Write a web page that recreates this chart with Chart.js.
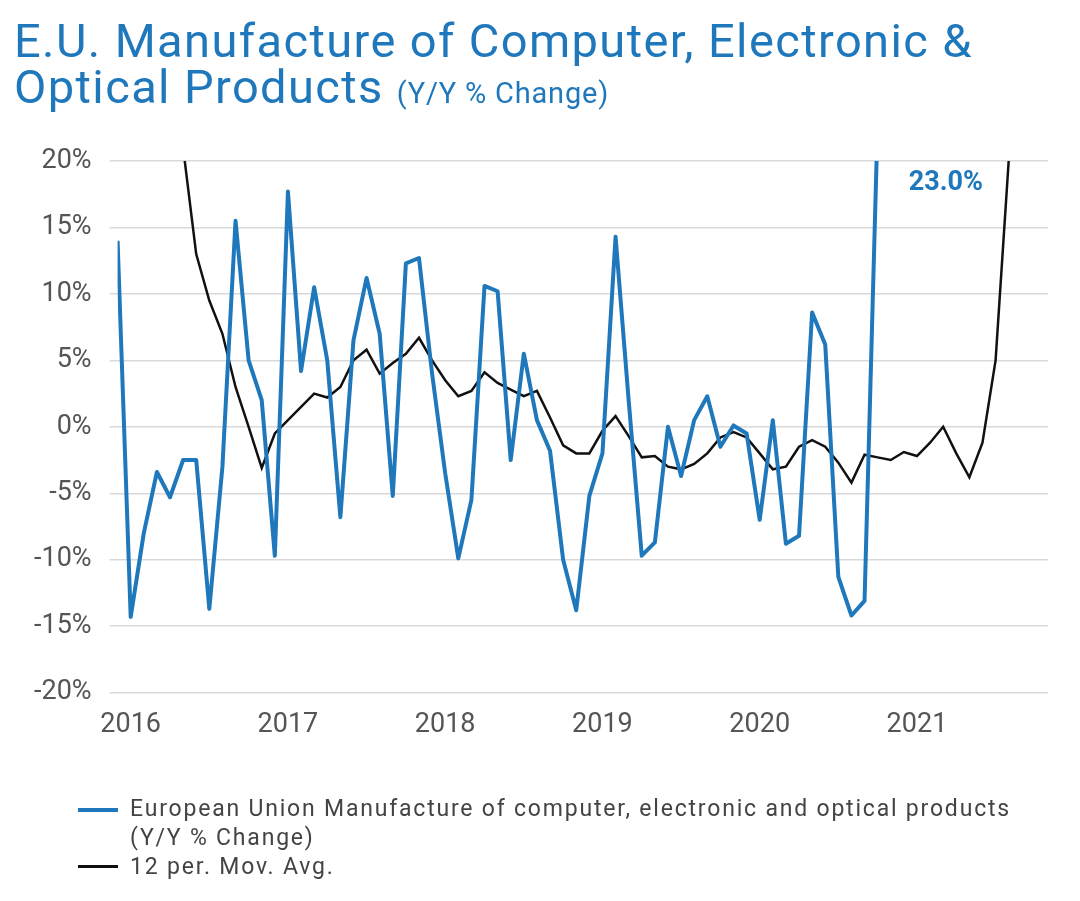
<!DOCTYPE html>
<html><head><meta charset="utf-8">
<script src="https://cdn.jsdelivr.net/npm/chart.js@4"></script>
<style>
body{margin:0;width:1080px;height:901px;background:#fff;font-family:Roboto,"Noto Sans",sans-serif;position:relative;overflow:hidden}
#t{position:absolute;left:14px;top:18px;color:#1f78bb;font-size:47px;line-height:46px;letter-spacing:1.4px}
#t span{font-size:29px;letter-spacing:0.8px}
#c{position:absolute;left:0;top:0}
#lg{position:absolute;left:78px;top:794px;font-size:23px;color:#444;line-height:29px;letter-spacing:1.8px}
.r{display:flex;align-items:flex-start}
.sw{width:40px;margin-right:12px;margin-top:14px}
</style></head><body>
<canvas id="c" width="1080" height="901"></canvas>
<div id="t">E.U. Manufacture of Computer, Electronic &amp;<br>Optical Products <span>(Y/Y % Change)</span></div>
<div id="lg">
<div class="r"><div class="sw" style="border-top:4px solid #1f78bb"></div><div>European Union Manufacture of computer, electronic and optical products<br>(Y/Y % Change)</div></div>
<div class="r"><div class="sw" style="border-top:3px solid #111;margin-top:13px"></div><div>12 per. Mov. Avg.</div></div>
</div>
<script>
const startYear=2015, startMonth=11; // Dec 2015
const nMonths=72;
const labels=[];for(let i=0;i<nMonths;i++){const m=(startMonth+i)%12;const y=startYear+Math.floor((startMonth+i)/12);labels.push(m===0?String(y):'');}
const euSeries=[14,-14.3,-8,-3.4,-5.3,-2.5,-2.5,-13.7,-3,15.5,5,2,-9.7,
17.7,4.2,10.5,5,-6.8,6.5,11.2,7,-5.2,12.3,12.7,4,
-3.5,-9.9,-5.5,10.6,10.2,-2.5,5.5,0.5,-1.8,-10,-13.8,-5.2,
-2,14.3,2,-9.7,-8.7,0,-3.7,0.5,2.3,-1.5,0.1,-0.5,
-7,0.5,-8.8,-8.2,8.6,6.2,-11.3,-14.2,-13.1,23];
const movAvg=[null,null,null,30,25,21,13,9.5,7,3,0,-3.1,
-0.5,0.5,1.5,2.5,2.2,3,5,5.8,4,4.8,5.5,6.7,
5,3.5,2.3,2.7,4.1,3.3,2.8,2.3,2.7,0.7,-1.4,-2,
-2,-0.3,0.8,-0.7,-2.3,-2.2,-3,-3.2,-2.8,-2,-0.8,-0.4,
-0.8,-2,-3.2,-3,-1.5,-1,-1.5,-2.7,-4.2,-2.1,-2.3,-2.5,
-1.9,-2.2,-1.2,0,-2,-3.8,-1.2,5,20,35];
const yTicks=[-20,-15,-10,-5,0,5,10,15,20];
const note={label:'23.0%',index:63.2,value:17.8};
const notePlugin={id:'note',afterDatasetsDraw(ch){const c=ch.ctx;c.save();c.font='bold 27px Roboto';c.fillStyle='#1f78bb';c.textAlign='center';c.fillText(note.label,ch.scales.x.getPixelForValue(note.index),ch.scales.y.getPixelForValue(note.value));c.restore();}};
new Chart(document.getElementById('c'),{type:'line',
data:{labels,datasets:[
{data:euSeries,borderColor:'#1f78bb',borderWidth:4,pointRadius:0,tension:0,borderJoinStyle:'round'},
{data:movAvg.slice(0,nMonths),borderColor:'#111',borderWidth:2.5,pointRadius:0,tension:0}]},
options:{responsive:false,animation:false,
layout:{padding:{top:161,left:16,right:32,bottom:152}},
plugins:{legend:{display:false},tooltip:{enabled:false}},
scales:{
x:{offset:false,grid:{display:false},border:{display:false},ticks:{autoSkip:false,maxRotation:0,color:'#555',font:{size:27,family:'Roboto'},padding:8}},
y:{min:-20,max:20,afterBuildTicks(s){s.ticks=yTicks.map(v=>({value:v}));},grid:{color:'#d9d9d9',lineWidth:1.5},border:{display:false},
ticks:{color:'#555',font:{size:27,family:'Roboto'},padding:18,callback:v=>v+'%'}}}},
plugins:[notePlugin,{id:'clipper',beforeDatasetsDraw(ch){const a=ch.chartArea;ch.ctx.save();ch.ctx.beginPath();ch.ctx.rect(a.left,a.top-2,a.right-a.left+2,a.bottom-a.top+4);ch.ctx.clip();},afterDatasetsDraw(ch){ch.ctx.restore();}}]
});
</script></body></html>
